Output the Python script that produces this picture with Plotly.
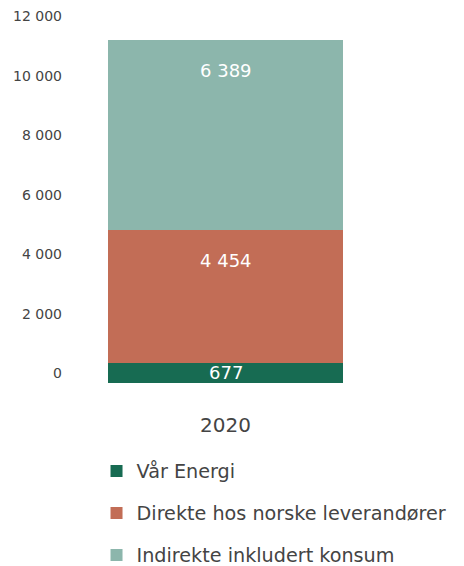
import plotly.graph_objects as go

categories = ["2020"]
series_names = ["Vår Energi", "Direkte hos norske leverandører", "Indirekte inkludert konsum"]
var_energi = [677]
direkte = [4454]
indirekte = [6389]
colors = ["#176B52", "#C26D56", "#8CB6AC"]
tick_vals = [0, 2000, 4000, 6000, 8000, 10000, 12000]
tick_text = ["0", "2 000", "4 000", "6 000", "8 000", "10 000", "12 000"]

FONT = "DejaVu Sans"
series = [var_energi, direkte, indirekte]

fig = go.Figure()
for i, (name, vals, col) in enumerate(zip(series_names, series, colors)):
    fig.add_trace(go.Bar(
        x=categories, y=vals, name=name, marker=dict(color=col, line=dict(width=0)),
        legendgroup=f"g{i}", hoverinfo="skip",
    ))

# value labels (x given as category index on the category axis)
for j, cat in enumerate(categories):
    base = 0
    for i, vals in enumerate(series):
        v = vals[j]
        top = base + v
        txt = f"{v:,}".replace(",", " ")
        if i == 0:
            fig.add_annotation(x=j, y=base + v / 2, text=txt, showarrow=False,
                               font=dict(color="white", size=18, family=FONT))
        else:
            fig.add_annotation(x=j, y=top, text=txt, showarrow=False,
                               font=dict(color="white", size=18, family=FONT), yshift=-30)
        base = top

# paper area: top 18 .. bottom 566 (b=0); plot region 357 px tall
plot_h = 357
paper_h = 566 - 18
dom_low = (paper_h - plot_h) / paper_h

fig.update_layout(
    width=464, height=566,
    margin=dict(l=67, r=96, t=18, b=0),
    barmode="stack", bargap=0.22,
    plot_bgcolor="white", paper_bgcolor="white",
    font=dict(family=FONT, color="#444"),
    showlegend=True,
    legend=dict(orientation="v", x=0.0715, xanchor="left", y=0, yanchor="bottom",
                traceorder="grouped", tracegroupgap=14,
                font=dict(size=19.2, family=FONT, color="#444")),
    xaxis=dict(type="category", showgrid=False, showline=False, ticks="", automargin=False,
               tickfont=dict(size=20, family=FONT, color="#444"),
               range=[-0.5, 0.5], ticklabelstandoff=28),
    yaxis=dict(domain=[dom_low, 1], range=[0, 12000], tickvals=tick_vals, ticktext=tick_text,
               showgrid=False, zeroline=False, showline=False, ticks="",
               ticklabelposition="outside top", ticklabeloverflow="allow", automargin=False,
               tickfont=dict(size=14, family=FONT, color="#444"), ticklabelstandoff=12),
)

fig.write_html("out.html")
